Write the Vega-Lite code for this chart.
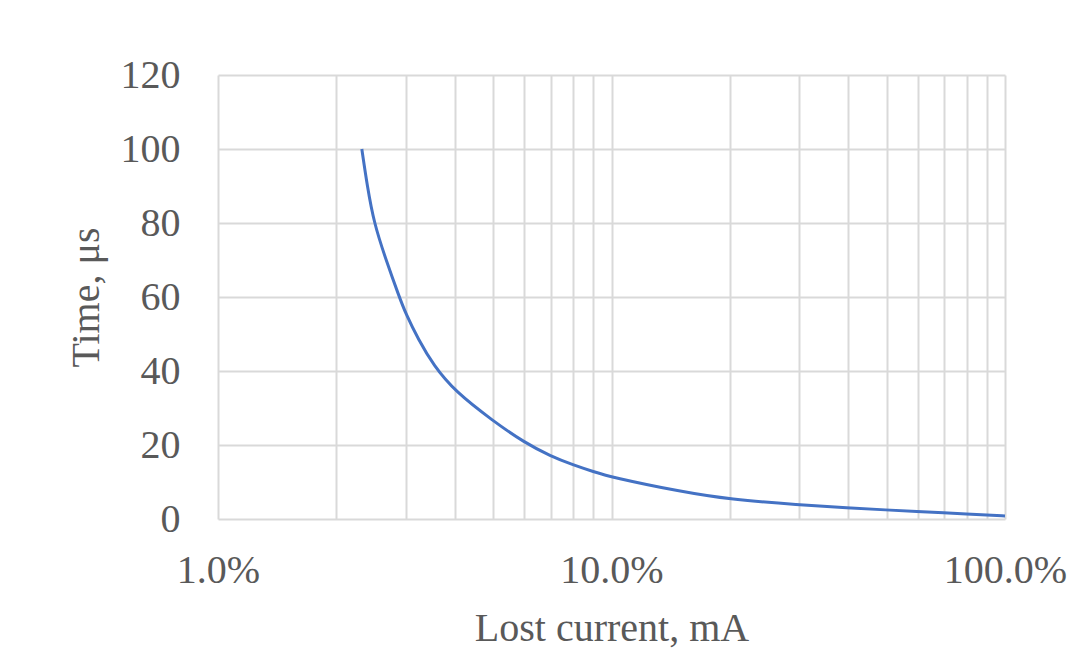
{
  "$schema": "https://vega.github.io/schema/vega-lite/v6.json",
  "autosize": "none",
  "width": 787,
  "height": 444,
  "padding": {"left": 218, "top": 75, "right": 83, "bottom": 147},
  "background": "white",
  "config": {
    "view": {"stroke": null},
    "font": "Liberation Serif"
  },
  "data": {
    "values": [
      {"current": 0.0232, "time": 100},
      {"current": 0.02395, "time": 90},
      {"current": 0.02491, "time": 80},
      {"current": 0.02673, "time": 70},
      {"current": 0.02889, "time": 60},
      {"current": 0.03, "time": 55.5},
      {"current": 0.0323, "time": 48.5},
      {"current": 0.0353, "time": 41.5},
      {"current": 0.04, "time": 34.5},
      {"current": 0.05, "time": 26.5},
      {"current": 0.06, "time": 20.7},
      {"current": 0.07, "time": 17},
      {"current": 0.08, "time": 14.6},
      {"current": 0.09, "time": 12.8},
      {"current": 0.1, "time": 11.3},
      {"current": 0.15, "time": 7.4},
      {"current": 0.2, "time": 5.3},
      {"current": 0.3, "time": 3.8},
      {"current": 0.4, "time": 3.0},
      {"current": 0.5, "time": 2.45},
      {"current": 0.6, "time": 2.0},
      {"current": 0.7, "time": 1.65},
      {"current": 0.8, "time": 1.35},
      {"current": 0.9, "time": 1.08},
      {"current": 1.0, "time": 0.8}
    ]
  },
  "mark": {"type": "line", "color": "#4472c4", "strokeWidth": 3, "interpolate": "basis"},
  "encoding": {
    "x": {
      "field": "current",
      "type": "quantitative",
      "scale": {"type": "log", "domain": [0.01, 1], "nice": false},
      "axis": {
        "title": "Lost current, mA",
        "values": [0.01, 0.02, 0.03, 0.04, 0.05, 0.06, 0.07, 0.08, 0.09, 0.1, 0.2, 0.3, 0.4, 0.5, 0.6, 0.7, 0.8, 0.9, 1],
        "labelExpr": "(datum.value == 0.01 || datum.value == 0.1 || datum.value == 1) ? format(datum.value, '.1%') : ''",
        "labelOverlap": false,
        "labelFlush": false,
        "domain": false,
        "ticks": false,
        "tickSize": 0,
        "grid": true,
        "gridColor": "#d9d9d9",
        "gridWidth": 2,
        "labelFont": "Liberation Serif",
        "labelFontSize": 40,
        "labelColor": "#595959",
        "labelPadding": 31,
        "titleFont": "Liberation Serif",
        "titleFontSize": 40,
        "titleFontWeight": "normal",
        "titleColor": "#595959",
        "titlePadding": 18
      }
    },
    "y": {
      "field": "time",
      "type": "quantitative",
      "scale": {"domain": [0, 120], "nice": false},
      "axis": {
        "title": "Time, μs",
        "values": [0, 20, 40, 60, 80, 100, 120],
        "domain": false,
        "ticks": false,
        "tickSize": 0,
        "grid": true,
        "gridColor": "#d9d9d9",
        "gridWidth": 2,
        "labelFont": "Liberation Serif",
        "labelFontSize": 40,
        "labelColor": "#595959",
        "labelPadding": 38,
        "titleFont": "Liberation Serif",
        "titleFontSize": 40,
        "titleFontWeight": "normal",
        "titleColor": "#595959",
        "titlePadding": 14
      }
    }
  }
}
